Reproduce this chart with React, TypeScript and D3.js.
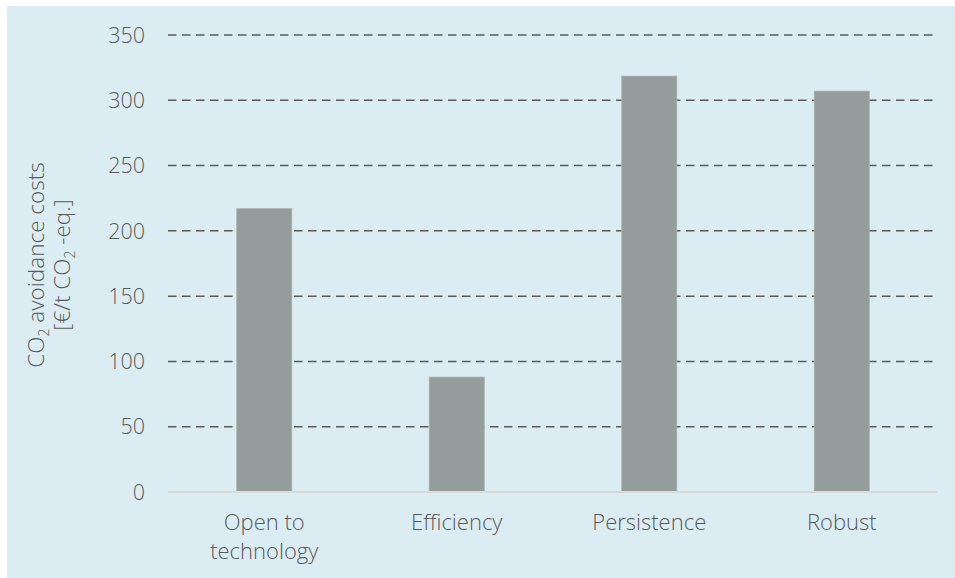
import React from "react";
import * as d3 from "d3";

const categories = ["Open to technology", "Efficiency", "Persistence", "Robust"];
const categoryLines = [["Open to", "technology"], ["Efficiency"], ["Persistence"], ["Robust"]];
const values = [217, 88, 318.5, 307];
const yTicks = [0, 50, 100, 150, 200, 250, 300, 350];

const W = 955;
const H = 578;
const FONT = "'Open Sans', 'DejaVu Sans', sans-serif";
const TEXT = "#595959";

export default function App() {
  const x = d3.scaleBand<string>().domain(categories).range([168, 938]).paddingInner(0.714).paddingOuter(0.357);
  const y = d3.scaleLinear().domain([0, 350]).range([492, 35]);

  return (
    <svg width={W} height={H} style={{ position: "absolute", left: 0, top: 0 }} fontFamily={FONT}>
      <rect x={0} y={0} width={W} height={H} fill="#ffffff" />
      <rect x={7} y={6} width={W - 7} height={H - 6} fill="#DBEDF3" />
      {yTicks.filter((t) => t > 0).map((t) => (
        <line key={"g" + t} x1={168} x2={938} y1={y(t)} y2={y(t)} stroke="#595959" strokeWidth={1.5} strokeDasharray="8.5,5.5" />
      ))}
      {categories.map((c, i) => (
        <rect key={c} x={x(c)} y={y(values[i])} width={x.bandwidth()} height={y(0) - y(values[i])} fill="#949C9C" stroke="#A9B0B1" strokeWidth={0.8} />
      ))}
      <line x1={168} x2={938} y1={y(0)} y2={y(0)} stroke="#D9D9D9" strokeWidth={2} />
      {yTicks.map((t) => (
        <text key={"t" + t} x={145} y={y(t)} dy="0.36em" textAnchor="end" fontSize={21.5} fill={TEXT} fontWeight={300}>{t}</text>
      ))}
      {categories.map((c, i) => (
        <text key={"c" + c} x={(x(c) as number) + x.bandwidth() / 2} y={530} textAnchor="middle" fontSize={22} fill={TEXT} fontWeight={300}>
          {categoryLines[i].map((ln, j) => (
            <tspan key={j} x={(x(c) as number) + x.bandwidth() / 2} dy={j === 0 ? 0 : 29}>{ln}</tspan>
          ))}
        </text>
      ))}
      <g transform="translate(36,265) rotate(-90)">
        <text x={0} y={0} dy="0.36em" textAnchor="middle" fontSize={22.5} fill={TEXT} fontWeight={300}>
          CO<tspan fontSize={14} dy={5}>2</tspan><tspan dy={-5}> avoidance costs</tspan>
        </text>
      </g>
      <g transform="translate(62,265) rotate(-90)">
        <text x={0} y={0} dy="0.36em" textAnchor="middle" fontSize={22.5} fill={TEXT} fontWeight={300}>
          [€/t CO<tspan fontSize={14} dy={5}>2</tspan><tspan dy={-5}> -eq.]</tspan>
        </text>
      </g>
    </svg>
  );
}
